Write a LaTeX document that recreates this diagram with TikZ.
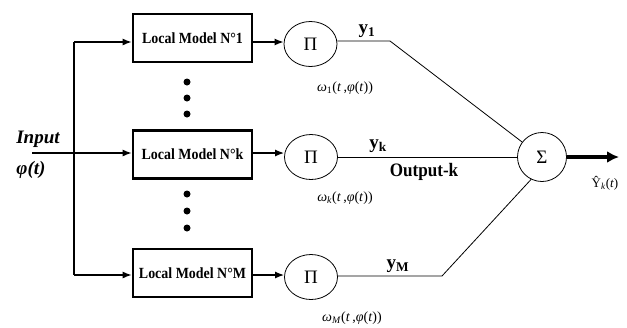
\documentclass[tikz,border=0pt]{standalone}
\usepackage{fontspec}
\setmainfont{Liberation Serif}
\newfontfamily\condfont[FakeStretch=0.9]{Liberation Serif}
\usetikzlibrary{arrows.meta,shapes.geometric}
\newcommand{\fsz}[1]{\fontsize{#1bp}{#1bp}\selectfont}
\tikzset{
  model/.style={draw, line width=2.6bp, minimum width=119bp, minimum height=48bp,
    inner sep=0pt, font=\condfont\bfseries\fsz{15.5}},
  prodnode/.style={ellipse, draw, line width=0.8bp, minimum width=53bp, minimum height=45bp,
    inner sep=0pt, font=\fsz{19}},
  sumnode/.style={circle, draw, line width=0.8bp, minimum size=49bp, inner sep=0pt, font=\fsz{19}},
  feed/.style={line width=1.4bp, -{Latex[length=9bp,width=7bp]}},
  wire/.style={line width=0.8bp},
  outarrow/.style={line width=3.2bp, -{Latex[length=12bp,width=12bp]}},
  lbl/.style={inner sep=0pt},
  dot/.style={circle, fill, minimum size=7bp, inner sep=0pt},
}
\begin{document}
\begin{tikzpicture}[x=1bp,y=-1bp]
\useasboundingbox (0,0) rectangle (627,327);

% local models
\node[model] (m1) at (192.5,38) {Local Model N°1};
\node[model] (mk) at (192.5,154.5) {Local Model N°k};
\node[model] (mM) at (192.5,273) {Local Model N°M};

% ellipsis dots between the models
\node[dot] (d1) at (187,82) {};
\node[dot] (d2) at (187,98) {};
\node[dot] (d3) at (187,114) {};
\node[dot] (d4) at (187,194) {};
\node[dot] (d5) at (187,211) {};
\node[dot] (d6) at (187,228) {};

% product nodes
\node[prodnode] (p1) at (310.5,44) {Π};
\node[prodnode] (pk) at (311,157) {Π};
\node[prodnode] (pM) at (311,277) {Π};

% sum node
\node[sumnode] (s) at (542,157) {Σ};

% input distribution
\coordinate (in) at (32,153);
\coordinate (top) at (74,42);
\coordinate (bot) at (74,275);
\draw[wire, line width=1.2bp] (top) -- (bot);
\draw[feed] (top) -- (top -| m1.west);
\draw[feed] (bot) -- (bot -| mM.west);
\draw[feed] (in) -- (in -| mk.west);

\node[lbl, font=\bfseries\itshape\fsz{19}] (inlbl) at (38,139) {Input};
\node[lbl, font=\bfseries\itshape\fsz{19}] (philbl) at (31,170) {φ(t)};

% models to products
\coordinate (r1) at (m1.east |- top);
\coordinate (rk) at (mk.east |- in);
\coordinate (rM) at (mM.east |- bot);
\draw[feed] (r1) -- (r1 -| p1.west);
\draw[feed] (rk) -- (rk -| pk.west);
\draw[feed] (rM) -- (rM -| pM.west);

% products to sum
\coordinate (b1) at (390,41);
\coordinate (bM) at (442,276);
\draw[wire] (p1.east |- b1) -- (b1) -- (s.143);
\draw[wire] (pk.east) -- (s.west);
\draw[wire] (pM.east |- bM) -- (bM) -- (s.-116);

% output
\coordinate (out) at (619,157);
\draw[outarrow] (s.east) -- (out);

% signal labels
\node[lbl, font=\bfseries\fsz{19}] (y1) at (367,31) {y\textsubscript{1}};
\node[lbl, font=\bfseries\fsz{19}] (yk) at (378,146) {y\textsubscript{k}};
\node[lbl, font=\bfseries\fsz{19}] (yM) at (398,266) {y\textsubscript{M}};
\node[lbl, font=\condfont\bfseries\fsz{19}] (outk) at (424,172) {Output-k};

% weights
\node[lbl, font=\fsz{14}] (w1) at (345,88) {\textit{ω}\textsubscript{1}(\textit{t}\,,\textit{φ}(\textit{t}))};
\node[lbl, font=\fsz{14}] (wk) at (345,198) {\textit{ω}\textsubscript{\textit{k}}(\textit{t}\,,\textit{φ}(\textit{t}))};
\node[lbl, font=\fsz{14}] (wM) at (352,318) {\textit{ω}\textsubscript{\textit{M}}(\textit{t}\,,\textit{φ}(\textit{t}))};

% estimated output
\node[lbl, font=\fsz{13}] (yhat) at (605,183) {Ŷ\textsubscript{\textit{k}}(\textit{t})};
\end{tikzpicture}
\end{document}
